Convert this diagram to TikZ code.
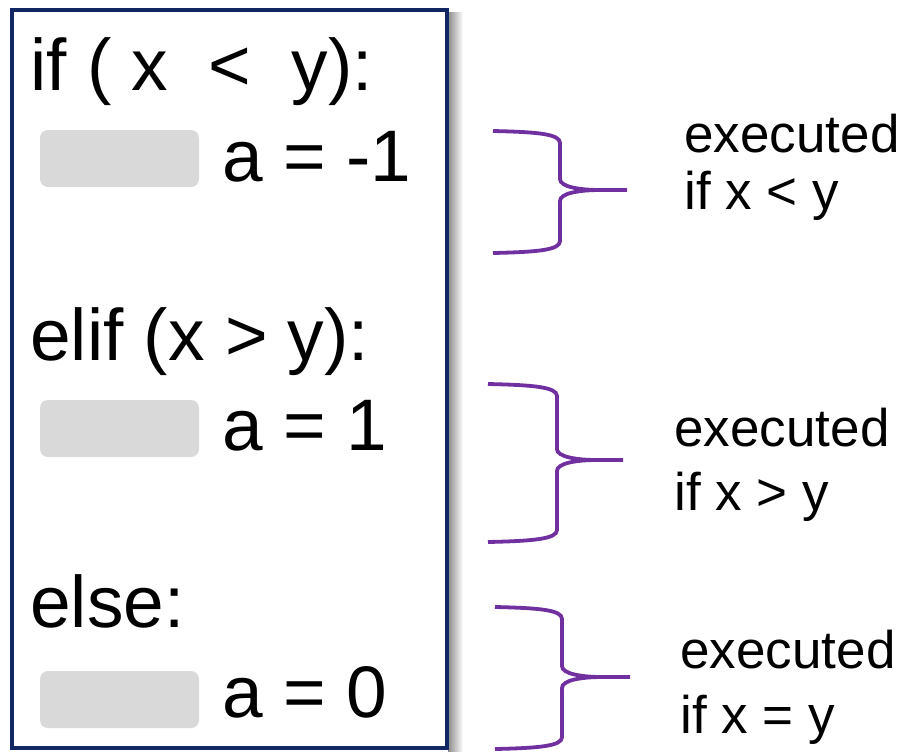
\documentclass[tikz,border=0pt]{standalone}
\usepackage{fontspec}
\setmainfont{Liberation Sans}
\definecolor{navy}{RGB}{18,38,100}
\definecolor{bracepurple}{RGB}{112,48,160}
\definecolor{tabgrey}{RGB}{217,217,217}
\begin{document}
\begin{tikzpicture}[x=0.5pt,y=-0.5pt,
  code/.style={anchor=base west,inner sep=0pt,font=\fontsize{36.5}{44}\selectfont},
  note/.style={anchor=base west,inner sep=0pt,font=\fontsize{26.5}{31}\selectfont},
  tabbox/.style={fill=tabgrey,rounded corners=4pt},
  bracestyle/.style={draw=bracepurple,line width=1.9pt}]
\useasboundingbox (0,0) rectangle (900,751);
% shadow
\shade[left color=black!45,right color=white] (448,12) rectangle (463,751);
% frame
\draw[navy,line width=2pt,fill=white] (11.5,9.5) rectangle (447,748);
% grey tabs
\fill[tabbox] (40,130) rectangle (199,187);
\fill[tabbox] (40,400) rectangle (199,457);
\fill[tabbox] (40,671) rectangle (199,728);
% code
\node[code] (l1) at (30,90) {if ( x \ < \ y):};
\node[code] (l2) at (222,181) {a = -1};
\node[code] (l3) at (30,360) {elif (x > y):};
\node[code] (l4) at (222,450) {a = 1};
\node[code] (l5) at (30,627) {else:};
\node[code] (l6) at (222,717) {a = 0};
% braces
\foreach \xl/\xv/\yt/\ym/\yb/\xt in {493/560/131/190/253/627, 488/557/384/460/542/623, 495/562/607/677/749/630}{
  \draw[bracestyle] (\xl,\yt) .. controls (\xl+45,\yt+1) and (\xv,\yt+3) .. (\xv,\yt+12)
     -- (\xv,\ym-11) .. controls (\xv,\ym-3) and (\xv+20,\ym) .. (\xv+40,\ym) -- (\xt,\ym);
  \draw[bracestyle] (\xl,\yb) .. controls (\xl+45,\yb-1) and (\xv,\yb-3) .. (\xv,\yb-12)
     -- (\xv,\ym+11) .. controls (\xv,\ym+3) and (\xv+20,\ym) .. (\xv+40,\ym);
}
% notes
\node[note] (n1a) at (684,152) {executed};
\node[note] (n1b) at (684,209) {if x < y};
\node[note] (n2a) at (674,446) {executed};
\node[note] (n2b) at (674,510) {if x > y};
\node[note] (n3a) at (680,668) {executed};
\node[note] (n3b) at (680,733) {if x = y};
\end{tikzpicture}
\end{document}
